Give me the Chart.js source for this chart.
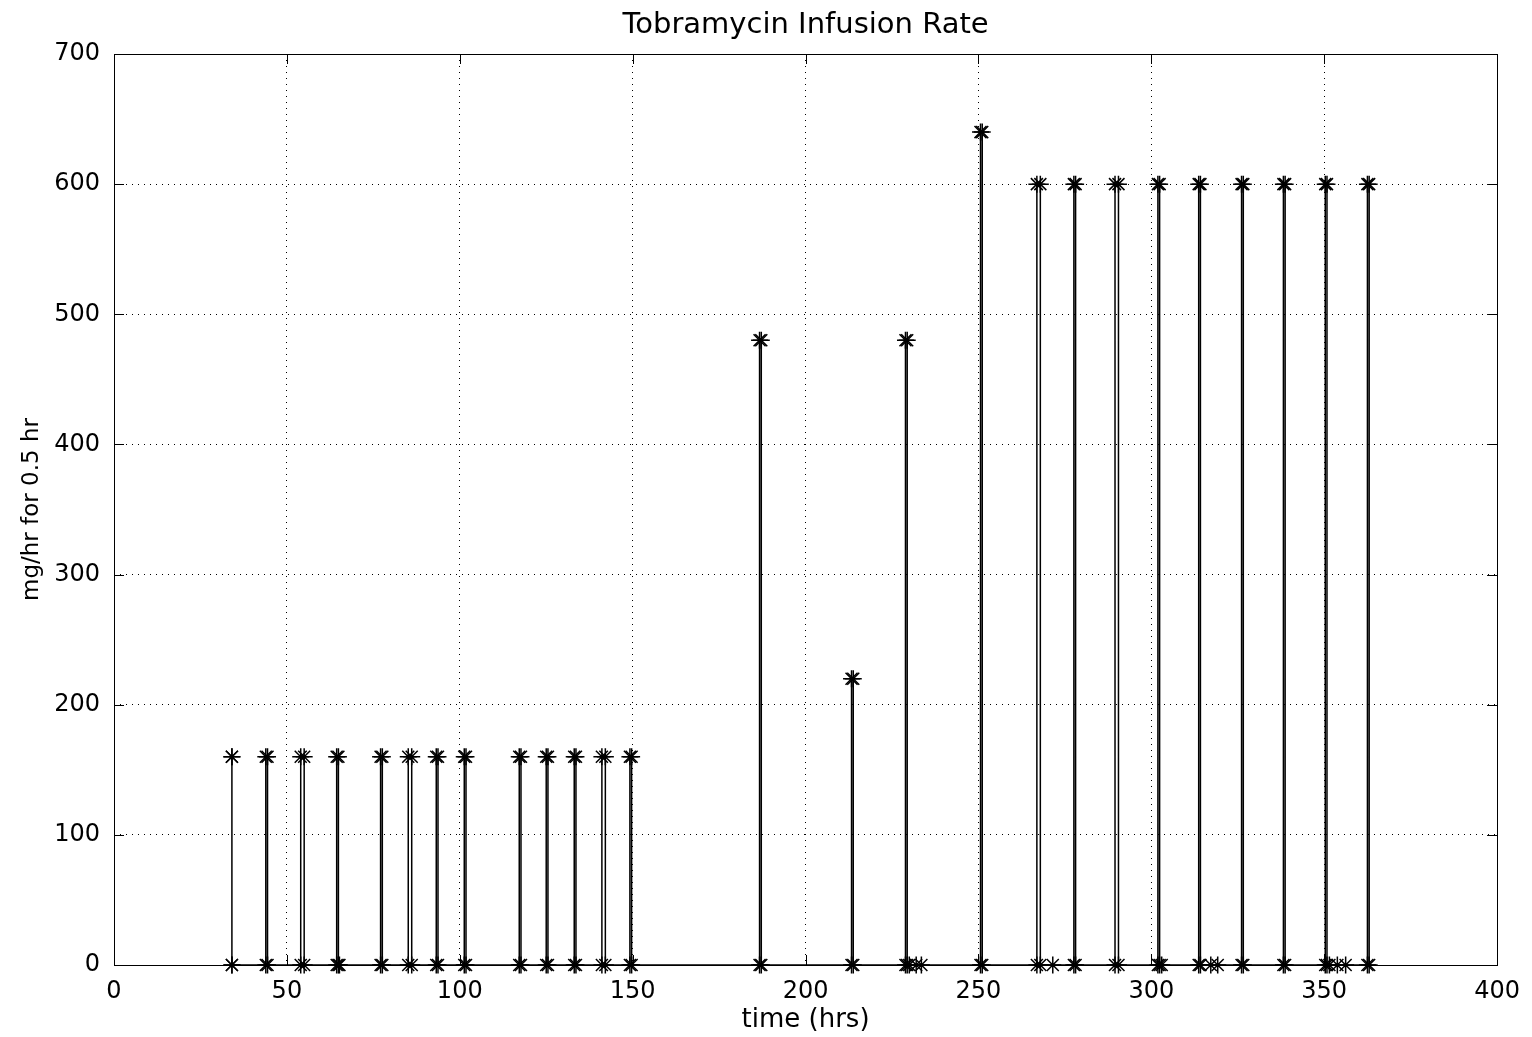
<!DOCTYPE html>
<html>
<head>
<meta charset="utf-8">
<title>Tobramycin Infusion Rate</title>
<script src="https://cdn.jsdelivr.net/npm/chart.js@4.4.0/dist/chart.umd.min.js"></script>
<style>
  html, body { margin: 0; padding: 0; background: #fff; }
  #wrap { width: 1532px; height: 1037px; }
</style>
</head>
<body>
<div id="wrap"><canvas id="infusionChart"></canvas></div>
<script>
// infusion start times (hrs)
const doseStart = [34.1, 43.9, 54.0, 64.4, 77.1, 85.1, 93.2, 101.3, 117.2, 125.0, 133.1, 141.1, 149.2,
                   186.7, 213.3, 228.9, 250.6, 266.9, 277.6, 289.5, 301.9, 313.7, 326.1, 338.2, 350.3, 362.5];
// infusion rate (mg/hr)
const doseRate = [160, 160, 160, 160, 160, 160, 160, 160, 160, 160, 160, 160, 160,
                  480, 220, 480, 640, 600, 600, 600, 600, 600, 600, 600, 600, 600];
// how long each infusion ran (hrs)
const doseHours = [0, 0.5, 1, 0.5, 0.5, 1, 0.5, 0.5, 0.5, 0.5, 0.5, 1, 0.5,
                   0.5, 0.5, 0.5, 0.5, 1, 0.5, 1, 0.5, 0.5, 0.5, 0.5, 0.5, 0.5];
// zero-rate samples logged between infusions
const zeroSamples = [65.2, 230.0, 232.0, 233.5, 271.5, 303.0, 317.2, 319.2, 351.5, 353.8, 356.2];

const xTicks = [0, 50, 100, 150, 200, 250, 300, 350, 400];
const yTicks = [0, 100, 200, 300, 400, 500, 600, 700];

const FONT = 'DejaVu Sans, Arial, sans-serif';

// each infusion is a rectangular pulse: up at start, flat for its length, back down
function buildPulses() {
  const pts = [];
  doseStart.forEach((t, i) => {
    const end = t + doseHours[i];
    pts.push({ x: t, y: 0 }, { x: t, y: doseRate[i] }, { x: end, y: doseRate[i] }, { x: end, y: 0 });
  });
  zeroSamples.forEach(t => pts.push({ x: t, y: 0 }));
  return pts.sort((a, b) => a.x - b.x);
}

// solid box round the axes with inward tick marks on all four sides
const axesBox = {
  id: 'axesBox',
  afterLayout(chart) {
    // centre the title over the plot area rather than the whole canvas
    const t = chart.titleBlock;
    if (t) {
      t.left = chart.chartArea.left;
      t.right = chart.chartArea.right;
      t.width = t.right - t.left;
    }
  },
  beforeDatasetsDraw(chart) {
    const { ctx, chartArea: a, scales: { x, y } } = chart;
    ctx.save();
    ctx.strokeStyle = '#000';
    ctx.lineWidth = 1;
    ctx.setLineDash([]);
    ctx.strokeRect(Math.round(a.left) + 0.5, Math.round(a.top) + 0.5,
                   Math.round(a.right - a.left), Math.round(a.bottom - a.top));
    ctx.beginPath();
    xTicks.forEach(v => {
      const px = Math.round(x.getPixelForValue(v)) + 0.5;
      ctx.moveTo(px, a.bottom); ctx.lineTo(px, a.bottom - 10);
      ctx.moveTo(px, a.top); ctx.lineTo(px, a.top + 10);
    });
    yTicks.forEach(v => {
      const py = Math.round(y.getPixelForValue(v)) + 0.5;
      ctx.moveTo(a.left, py); ctx.lineTo(a.left + 10, py);
      ctx.moveTo(a.right, py); ctx.lineTo(a.right - 10, py);
    });
    ctx.stroke();
    ctx.restore();
  }
};

const ctx = document.getElementById('infusionChart').getContext('2d');
new Chart(ctx, {
  type: 'scatter',
  data: {
    datasets: [{
      data: buildPulses(),
      showLine: true,
      borderColor: '#000',
      borderWidth: 1.5,
      pointStyle: 'star',
      pointRadius: 8.5,
      pointBorderColor: '#000',
      pointBorderWidth: 1.5,
      pointBackgroundColor: '#000',
      tension: 0,
      clip: false
    }]
  },
  plugins: [axesBox],
  options: {
    responsive: true,
    maintainAspectRatio: false,
    animation: false,
    layout: { padding: { top: 0, right: 33, bottom: 0, left: 0 } },
    plugins: {
      legend: { display: false },
      tooltip: { enabled: false },
      title: {
        display: true,
        text: 'Tobramycin Infusion Rate',
        color: '#000',
        font: { family: FONT, size: 29, weight: 'normal' },
        padding: { top: 7.6, bottom: 11.6 }
      }
    },
    scales: {
      x: {
        type: 'linear',
        min: 0,
        max: 400,
        afterBuildTicks: s => { s.ticks = xTicks.map(v => ({ value: v })); },
        afterFit: s => { s.height = 72; },
        grid: { color: '#000', lineWidth: 1, drawTicks: false },
        border: { display: false, dash: [1, 5] },
        ticks: { color: '#000', padding: 12, font: { family: FONT, size: 24 }, maxRotation: 0 },
        title: {
          display: true,
          text: 'time (hrs)',
          color: '#000',
          font: { family: FONT, size: 26 },
          padding: { top: 0, bottom: 1 }
        }
      },
      y: {
        type: 'linear',
        min: 0,
        max: 700,
        afterBuildTicks: s => { s.ticks = yTicks.map(v => ({ value: v })); },
        afterFit: s => { s.width = 114; },
        grid: { color: '#000', lineWidth: 1, drawTicks: false },
        border: { display: false, dash: [1, 5] },
        ticks: { color: '#000', padding: 14, font: { family: FONT, size: 24 } },
        title: {
          display: true,
          text: 'mg/hr for 0.5 hr',
          color: '#000',
          font: { family: FONT, size: 23 },
          padding: { top: 18, bottom: 0 }
        }
      }
    }
  }
});
</script>
</body>
</html>
